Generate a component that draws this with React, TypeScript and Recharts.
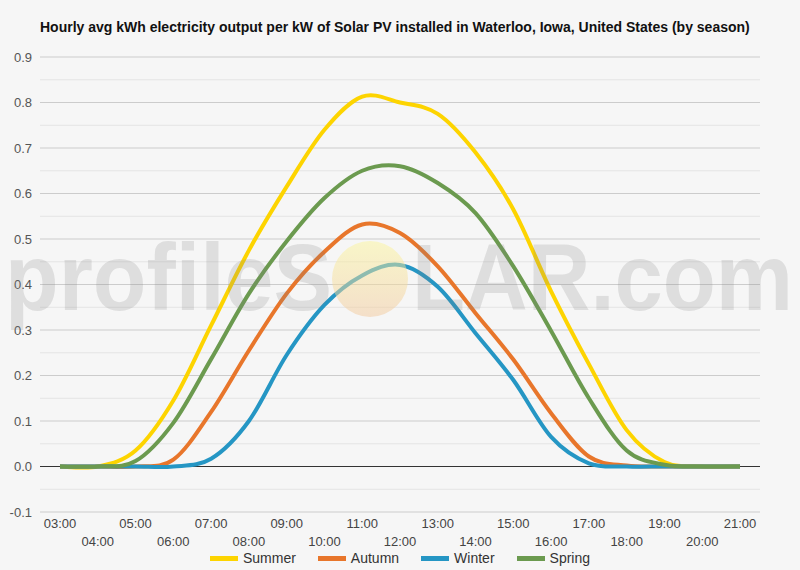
import React from 'react';
import { LineChart, Line, XAxis, YAxis, CartesianGrid, ReferenceLine } from 'recharts';

// ─── Data (hourly avg kWh per kW) ───
const HOURS = ['03:00', '04:00', '05:00', '06:00', '07:00', '08:00', '09:00', '10:00', '11:00', '12:00',
  '13:00', '14:00', '15:00', '16:00', '17:00', '18:00', '19:00', '20:00', '21:00'];

const SUMMER = [0, 0, 0.035, 0.145, 0.31, 0.475, 0.615, 0.74, 0.813, 0.8, 0.775, 0.69, 0.565, 0.385, 0.225, 0.08, 0.01, 0, 0];
const AUTUMN = [0, 0, 0, 0.015, 0.12, 0.255, 0.38, 0.472, 0.532, 0.513, 0.44, 0.337, 0.235, 0.117, 0.022, 0.002, 0, 0, 0];
const WINTER = [0, 0, 0, 0, 0.017, 0.1, 0.245, 0.355, 0.42, 0.443, 0.395, 0.293, 0.19, 0.065, 0.007, 0, 0, 0, 0];
const SPRING = [0, 0, 0.012, 0.096, 0.236, 0.38, 0.495, 0.59, 0.65, 0.66, 0.623, 0.557, 0.44, 0.298, 0.15, 0.035, 0.004, 0, 0];

const Y_TICKS = [-0.1, 0, 0.1, 0.2, 0.3, 0.4, 0.5, 0.6, 0.7, 0.8, 0.9];

const SERIES = [
  { key: 'Summer', values: SUMMER, color: '#fdd400' },
  { key: 'Autumn', values: AUTUMN, color: '#e8762b' },
  { key: 'Winter', values: WINTER, color: '#2596c4' },
  { key: 'Spring', values: SPRING, color: '#6b9a4f' },
];

const TITLE = 'Hourly avg kWh electricity output per kW of Solar PV installed in Waterloo, Iowa, United States (by season)';
const FONT = 'Arial, "Liberation Sans", sans-serif';

const data = HOURS.map((h, i) => {
  const row: Record<string, any> = { hour: h };
  SERIES.forEach(s => { row[s.key] = s.values[i]; });
  return row;
});

// minor grid lines halfway between labelled ticks
const MINOR = Y_TICKS.slice(0, -1).map(t => Math.round((t + 0.05) * 100) / 100);

// ─── Catmull-Rom style smoothing (like the "function" curve of the source) ───
const smoothCurve = (context: any) => {
  let pts: [number, number][] = [];
  return {
    areaStart() {},
    areaEnd() {},
    lineStart() { pts = []; },
    point(x: number, y: number) { pts.push([+x, +y]); },
    lineEnd() {
      if (!pts.length) return;
      context.moveTo(pts[0][0], pts[0][1]);
      for (let i = 0; i < pts.length - 1; i++) {
        const p0 = pts[Math.max(0, i - 1)];
        const p1 = pts[i];
        const p2 = pts[i + 1];
        const p3 = pts[Math.min(pts.length - 1, i + 2)];
        context.bezierCurveTo(
          p1[0] + (p2[0] - p0[0]) / 6, p1[1] + (p2[1] - p0[1]) / 6,
          p2[0] - (p3[0] - p1[0]) / 6, p2[1] - (p3[1] - p1[1]) / 6,
          p2[0], p2[1],
        );
      }
    },
  };
};

// ─── Two-row hour labels ───
const HourTick = (props: any) => {
  const { x, y, payload, index } = props;
  return (
    <text x={x} y={y + (index % 2 ? 34 : 16)} textAnchor="middle" fill="#444" fontSize={13} fontFamily={FONT}>
      {payload.value}
    </text>
  );
};

const Watermark = () => (
  <svg width={800} height={570} style={{ position: 'absolute', left: 0, top: 0, pointerEvents: 'none' }}>
    <defs>
      <linearGradient id="sun" x1="0" y1="0" x2="0" y2="1">
        <stop offset="0%" stopColor="#fbf59a" stopOpacity={0.5} />
        <stop offset="100%" stopColor="#f2c89c" stopOpacity={0.5} />
      </linearGradient>
    </defs>
    <text x={5} y={310} fontSize={94} fontWeight="bold" fontFamily={FONT} fill="#808080" fillOpacity={0.2}
      textLength={327} lengthAdjust="spacingAndGlyphs">profileS</text>
    <circle cx={370} cy={279} r={38} fill="url(#sun)" />
    <text x={412} y={310} fontSize={94} fontWeight="bold" fontFamily={FONT} fill="#808080" fillOpacity={0.2}
      textLength={381} lengthAdjust="spacingAndGlyphs">LAR.com</text>
  </svg>
);

export default function App() {
  return (
    <div style={{ position: 'absolute', left: 0, top: 0, width: 800, height: 570, background: '#f6f6f6', fontFamily: FONT }}>
      <div style={{ position: 'absolute', left: 40, top: 19, fontSize: 14, fontWeight: 'bold', color: '#111', whiteSpace: 'nowrap' }}>
        {TITLE}
      </div>
      <LineChart width={800} height={570} data={data} margin={{ top: 57, right: 40, bottom: 18, left: 0 }}>
        <CartesianGrid horizontal vertical={false} stroke="#cccccc" />
        {MINOR.map(v => (
          <ReferenceLine key={v} y={v} stroke="#e4e4e4" strokeWidth={1} />
        ))}
        <ReferenceLine y={0} stroke="#333" strokeWidth={1} />
        <XAxis dataKey="hour" interval={0} padding={{ left: 20, right: 20 }} axisLine={false} tickLine={false}
          tickSize={0} tickMargin={0} height={40} tick={<HourTick />} />
        <YAxis domain={[-0.1, 0.9]} ticks={Y_TICKS} axisLine={false} tickLine={false} width={40}
          tick={{ fill: '#555', fontSize: 13, fontFamily: FONT }} tickFormatter={(v: number) => v.toFixed(1)} />
        {SERIES.map(s => (
          <Line key={s.key} dataKey={s.key} type={smoothCurve as any} stroke={s.color} strokeWidth={4}
            dot={false} activeDot={false} isAnimationActive={false} />
        ))}
      </LineChart>
      <Watermark />
      <div style={{ position: 'absolute', left: 0, top: 549, width: 800, display: 'flex', justifyContent: 'center', gap: 22, fontSize: 14, color: '#333' }}>
        {SERIES.map(s => (
          <div key={s.key} style={{ display: 'flex', alignItems: 'center', gap: 5, height: 18 }}>
            <span style={{ display: 'inline-block', width: 28, height: 5, background: s.color }} />
            <span>{s.key}</span>
          </div>
        ))}
      </div>
    </div>
  );
}
